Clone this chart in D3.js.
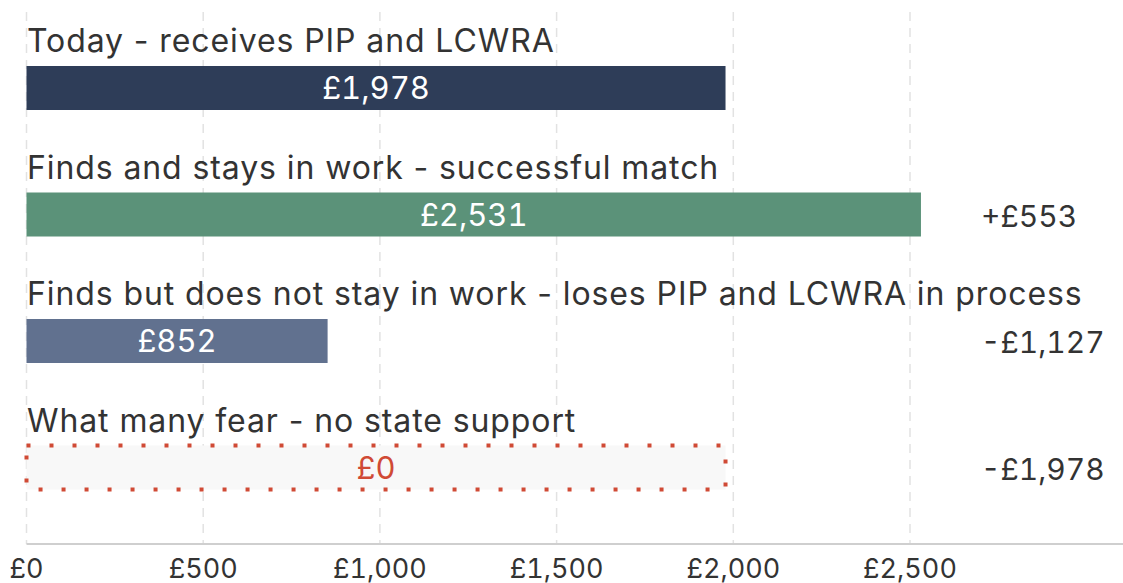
<!DOCTYPE html>
<html>
<head>
<meta charset="utf-8">
<script src="https://cdn.jsdelivr.net/npm/d3@7"></script>
<style>
  html, body { margin: 0; padding: 0; background: #fff; }
  svg { display: block; font-family: "Inter", "Noto Sans", sans-serif; }
  .num { font-variant-numeric: tabular-nums; font-feature-settings: "tnum"; }
</style>
</head>
<body>
<div id="chart"></div>
<script>
const categories = [
    "Today - receives PIP and LCWRA",
    "Finds and stays in work - successful match",
    "Finds but does not stay in work - loses PIP and LCWRA in process",
    "What many fear - no state support"
];
const values = [1978, 2531, 852, 0];
const outlineValues = [null, null, null, 1978];   // the "fear" bar is drawn as an empty outline
const changes = ["", "+£553", "-£1,127", "-£1,978"];
const barColors = ["#2e3d58", "#5b9279", "#61718f", "#f8f8f8"];
const tickValues = [0, 500, 1000, 1500, 2000, 2500];

const w = 1123, h = 583;
const svg = d3.select("#chart").append("svg")
    .attr("width", w)
    .attr("height", h);

const x = d3.scaleLinear()
    .domain([0, 500])
    .range([26.5, 203.2]);

const y = d3.scaleBand()
    .domain(d3.range(categories.length))
    .range([13, 519])
    .paddingInner(0)
    .paddingOuter(0);

const axisY = 544;
const fmt = d => "£" + d3.format(",")(d);

// grid
svg.append("g")
    .selectAll("line")
    .data(tickValues)
    .enter()
    .append("line")
    .attr("x1", d => x(d))
    .attr("x2", d => x(d))
    .attr("y1", 12)
    .attr("y2", axisY)
    .attr("stroke", "#e2e2e2")
    .attr("stroke-width", 1.5)
    .attr("stroke-dasharray", "9,7");

// axis line
svg.append("line")
    .attr("x1", x(0))
    .attr("x2", w)
    .attr("y1", axisY)
    .attr("y2", axisY)
    .attr("stroke", "#cfcfcf")
    .attr("stroke-width", 2);

// tick labels
svg.append("g")
    .selectAll("text")
    .data(tickValues)
    .enter()
    .append("text")
    .attr("class", "num")
    .attr("x", d => x(d))
    .attr("y", 578)
    .attr("text-anchor", "middle")
    .attr("font-size", 27)
    .attr("fill", "#333")
    .text(fmt);

const barH = 44;
const barTop = i => y(i) + 53;

// category labels
svg.append("g")
    .selectAll("text")
    .data(categories)
    .enter()
    .append("text")
    .attr("x", 27)
    .attr("y", (d, i) => barTop(i) - 14)
    .attr("font-size", 32)
    .attr("letter-spacing", 0.9)
    .attr("fill", "#333")
    .text(d => d);

// bars
const bars = svg.append("g");
values.forEach((v, i) => {
    const extent = outlineValues[i] != null ? outlineValues[i] : v;
    const r = bars.append("rect")
        .attr("x", x(0))
        .attr("y", barTop(i))
        .attr("width", x(extent) - x(0))
        .attr("height", barH)
        .attr("fill", barColors[i]);
    if (outlineValues[i] != null) {
        r.attr("stroke", "#d04a35")
         .attr("stroke-width", 4)
         .attr("stroke-dasharray", "4,19");
    }
    bars.append("text")
        .attr("class", "num")
        .attr("x", x(0) + (x(extent) - x(0)) / 2)
        .attr("y", barTop(i) + barH / 2)
        .attr("dy", "0.36em")
        .attr("text-anchor", "middle")
        .attr("font-size", 31)
        .attr("fill", outlineValues[i] != null ? "#d04a35" : "#fff")
        .text(fmt(v));
});

// change labels
svg.append("g")
    .selectAll("text")
    .data(changes)
    .enter()
    .append("text")
    .attr("class", "num")
    .attr("x", 981)
    .attr("y", (d, i) => barTop(i) + barH / 2)
    .attr("dy", "0.4em")
    .attr("font-size", 30)
    .attr("fill", "#333")
    .text(d => d);
</script>
</body>
</html>
